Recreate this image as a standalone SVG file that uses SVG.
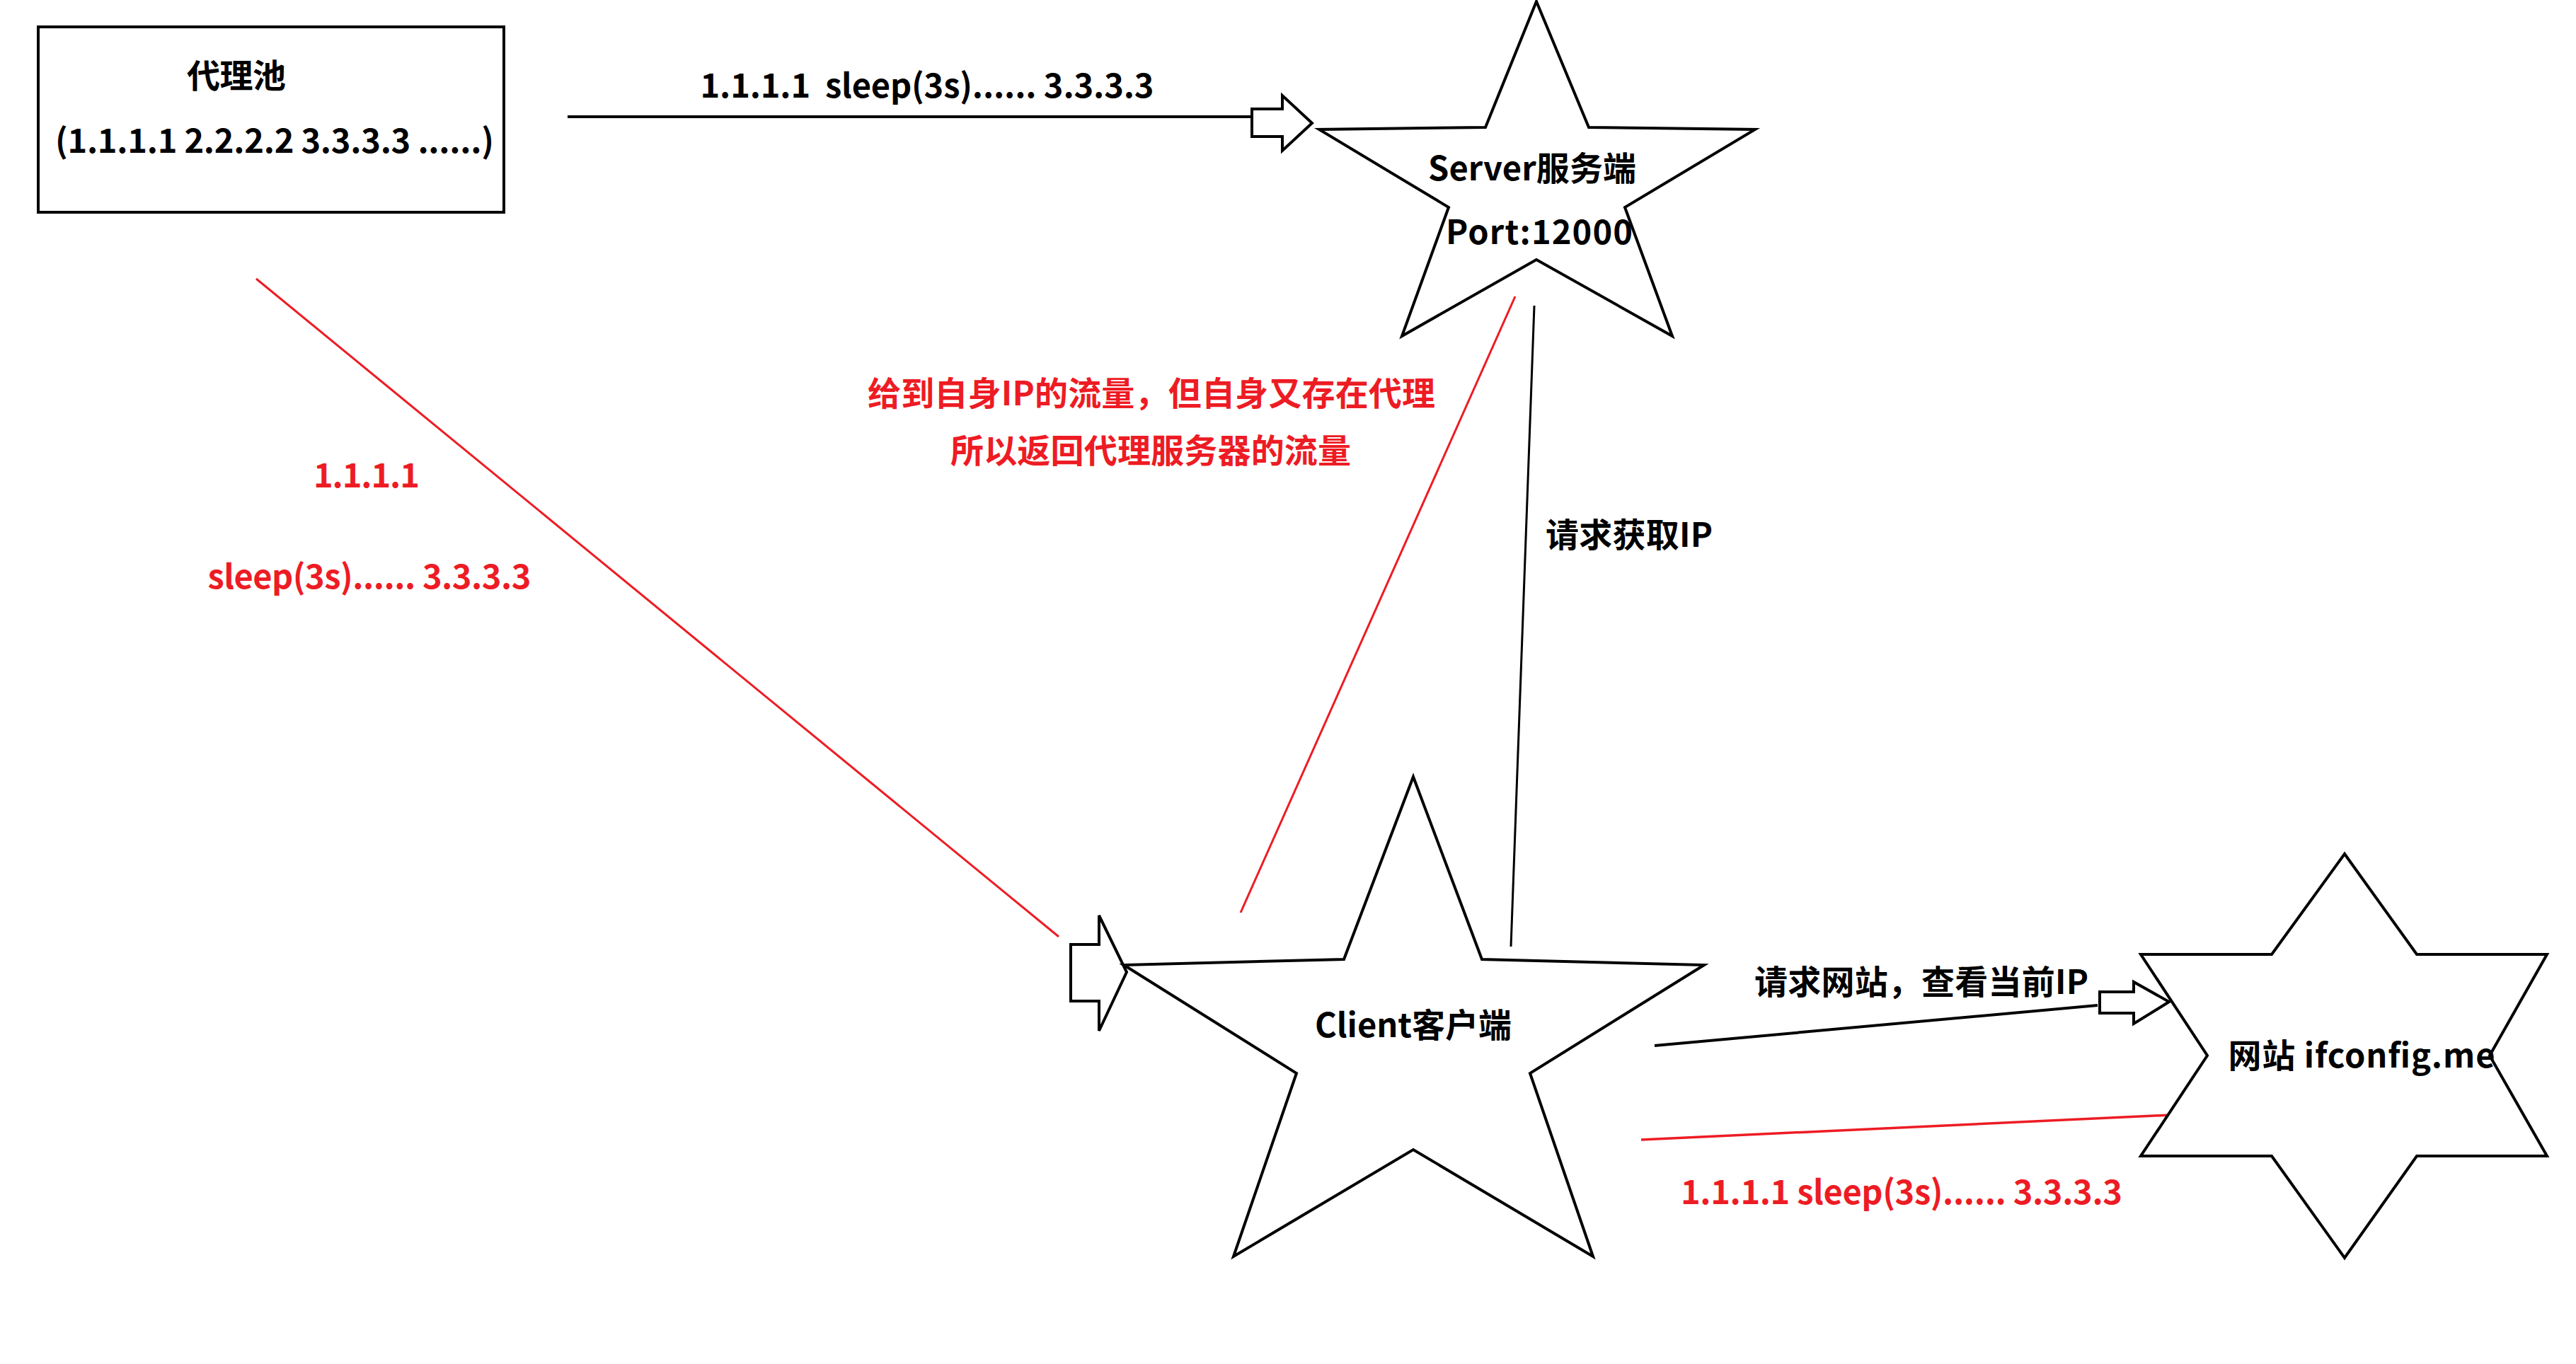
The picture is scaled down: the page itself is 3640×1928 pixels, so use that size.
<svg xmlns="http://www.w3.org/2000/svg" width="3640" height="1928" viewBox="0 0 3640 1928">
<style>
  .shape{fill:#ffffff;stroke:#000000;stroke-width:4;stroke-linejoin:miter}
  .blk{stroke:#000000;fill:none}
  .red{stroke:#ED1C24;fill:none}
  .harrow{fill:#ffffff;stroke:#000000;stroke-width:4;stroke-linejoin:miter}
  text{font-family:"Noto Sans CJK SC","Noto Sans",sans-serif;font-weight:bold;font-size:47px;fill:#000000;white-space:pre}
  .c{text-anchor:middle}
  .rt{fill:#ED1C24}
</style>
<rect width="3640" height="1928" fill="#ffffff"/>

<g id="connectors">
  <line class="blk" x1="802" y1="165" x2="1771" y2="165" stroke-width="4"/>
  <polygon class="harrow" points="1769,154 1812,154 1812,135 1854,174 1812,213 1812,193 1769,193"/>
  <line class="red" x1="362" y1="394" x2="1496" y2="1324" stroke-width="3"/>
  <polygon class="harrow" stroke-width="3" points="1513,1335 1553,1335 1553,1294 1592,1374 1553,1457 1553,1415 1513,1415"/>
  <line class="red" x1="2141" y1="419" x2="1753" y2="1290" stroke-width="3"/>
  <line class="blk" x1="2168" y1="432" x2="2135" y2="1338" stroke-width="3"/>
  <line class="blk" x1="2338" y1="1478" x2="2964" y2="1421" stroke-width="4"/>
  <polygon class="harrow" points="2967,1402 3015,1402 3015,1388 3065,1416 3015,1447 3015,1432 2967,1432"/>
  <line class="red" x1="2319" y1="1611" x2="3067" y2="1576" stroke-width="3.5"/>
</g>

<g id="proxy-pool">
  <rect class="shape" x="54" y="38" width="658" height="262"/>
  <text class="c" x="334" y="124" textLength="140">代理池</text>
  <text class="c" x="388" y="216" textLength="620">(1.1.1.1 2.2.2.2 3.3.3.3 ......)</text>
</g>

<g id="server">
  <polygon class="shape" points="2171,2 2245,180 2480,183 2296,293 2363,475 2171,367 1981,475 2047,293 1864,183 2099,180"/>
  <text class="c" x="2165" y="255" textLength="294">Server服务端</text>
  <text class="c" x="2175" y="345" textLength="264">Port:12000</text>
</g>

<g id="client">
  <polygon class="shape" points="1997,1098 2094,1356 2408,1364 2162,1517 2251,1776 1997,1625 1743,1776 1832,1517 1588,1364 1899,1356"/>
  <text class="c" x="1997" y="1466" textLength="278">Client客户端</text>
</g>

<g id="website">
  <polygon class="shape" points="3313,1207 3415,1349 3599,1349 3518,1492 3599,1634 3415,1634 3313,1778 3210,1634 3025,1634 3119,1492 3025,1349 3210,1349"/>
  <text class="c" x="3337" y="1509" textLength="377">网站 ifconfig.me</text>
</g>

<g id="labels">
  <text class="c" x="1310" y="138" textLength="641">1.1.1.1  sleep(3s)...... 3.3.3.3</text>
  <text class="c rt" x="518" y="689" textLength="150">1.1.1.1</text>
  <text class="c rt" x="522" y="832" textLength="457">sleep(3s)...... 3.3.3.3</text>
  <text class="c rt" x="1627" y="573" textLength="802">给到自身IP的流量，但自身又存在代理</text>
  <text class="c rt" x="1626" y="654" textLength="566">所以返回代理服务器的流量</text>
  <text x="2184" y="773" textLength="236">请求获取IP</text>
  <text class="c" x="2715" y="1405" textLength="472">请求网站，查看当前IP</text>
  <text class="c rt" x="2687" y="1702" textLength="624">1.1.1.1 sleep(3s)...... 3.3.3.3</text>
</g>
</svg>
